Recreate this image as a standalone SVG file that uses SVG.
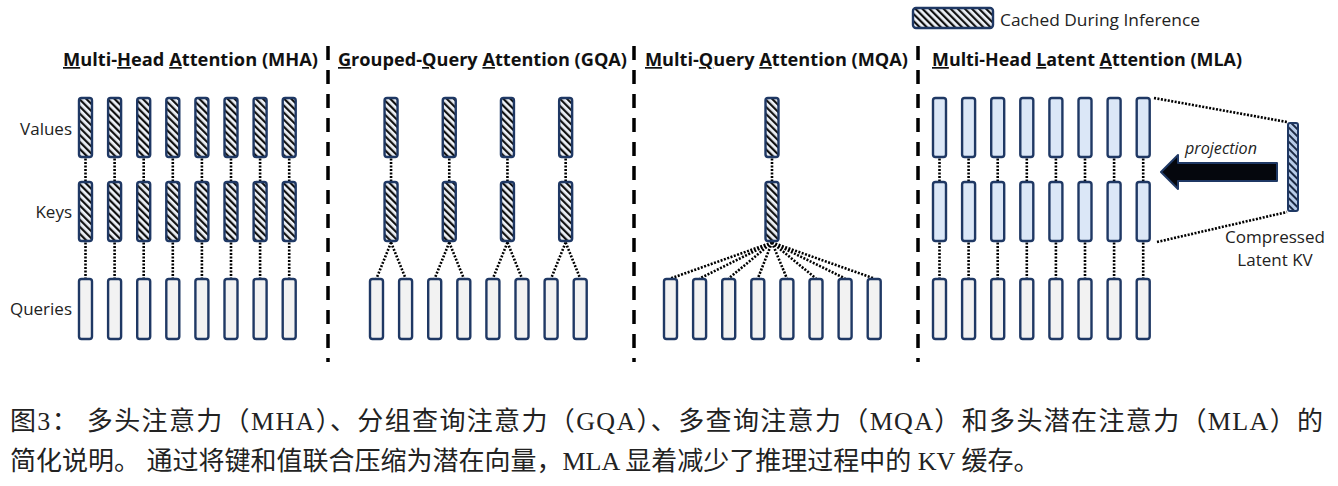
<svg xmlns="http://www.w3.org/2000/svg" width="1338" height="486" viewBox="0 0 1338 486">
<defs>
<pattern id="hatch" patternUnits="userSpaceOnUse" width="5" height="5" patternTransform="rotate(-45)">
<rect width="5" height="5" fill="#eef2f8"/>
<rect x="0" y="0" width="2.2" height="5" fill="#111"/>
</pattern>
<pattern id="hatchBlue" patternUnits="userSpaceOnUse" width="5" height="5" patternTransform="rotate(-45)">
<rect width="5" height="5" fill="#b7cbe8"/>
<rect x="0" y="0" width="2" height="5" fill="#1c2a44"/>
</pattern>
<style>
.h{fill:url(#hatch);stroke:#1f3864;stroke-width:2.4}
.q{fill:#f2f2f2;stroke:#1f3864;stroke-width:2.4}
.b{fill:#dbe7f7;stroke:#1f3864;stroke-width:2.4}
.dot{stroke:#000;stroke-width:2.6;stroke-dasharray:2 1.5;fill:none}
.div{stroke:#000;stroke-width:3.5;stroke-dasharray:14 10;fill:none}
.title{font-family:"Open Sans","Liberation Sans",sans-serif;font-weight:700;font-size:17px;fill:#111}
.u{text-decoration:underline}
.lbl{font-family:"Open Sans","Liberation Sans",sans-serif;font-size:17px;fill:#222}
.cap{font-family:"Liberation Serif","Noto Sans CJK SC",serif;font-size:26px;fill:#222}
</style>
</defs>
<rect width="1338" height="486" fill="#fff"/>

<!-- dividers -->
<g id="dividers">
<line class="div" x1="328" y1="46" x2="328" y2="362"/>
<line class="div" x1="634" y1="46" x2="634" y2="362"/>
<line class="div" x1="918" y1="46" x2="918" y2="362"/>
</g>

<!-- titles -->
<g id="titles">
<text class="title" x="63" y="66" textLength="255" lengthAdjust="spacingAndGlyphs"><tspan class="u">M</tspan>ulti-<tspan class="u">H</tspan>ead <tspan class="u">A</tspan>ttention (MHA)</text>
<text class="title" x="338" y="66" textLength="289" lengthAdjust="spacingAndGlyphs"><tspan class="u">G</tspan>rouped-<tspan class="u">Q</tspan>uery <tspan class="u">A</tspan>ttention (GQA)</text>
<text class="title" x="645" y="66" textLength="263" lengthAdjust="spacingAndGlyphs"><tspan class="u">M</tspan>ulti-<tspan class="u">Q</tspan>uery <tspan class="u">A</tspan>ttention (MQA)</text>
<text class="title" x="932" y="66" textLength="310" lengthAdjust="spacingAndGlyphs"><tspan class="u">M</tspan>ulti-Head <tspan class="u">L</tspan>atent <tspan class="u">A</tspan>ttention (MLA)</text>
</g>

<!-- row labels -->
<g id="row-labels">
<text class="lbl" x="72" y="135" text-anchor="end">Values</text>
<text class="lbl" x="72" y="218" text-anchor="end">Keys</text>
<text class="lbl" x="72" y="315" text-anchor="end">Queries</text>
</g>

<!-- legend -->
<g id="legend">
<rect x="913" y="8" width="80" height="20" rx="3" class="h"/>
<text class="lbl" x="1000" y="26" font-size="16" textLength="200" lengthAdjust="spacingAndGlyphs">Cached During Inference</text>
</g>

<!-- connectors -->
<g id="connectors">
<!-- MHA -->
<path class="dot" d="M85.5 158.5V181.5M114.6 158.5V181.5M143.7 158.5V181.5M172.8 158.5V181.5M201.9 158.5V181.5M231 158.5V181.5M260.1 158.5V181.5M289.2 158.5V181.5"/>
<path class="dot" d="M85.5 242.5V278.5M114.6 242.5V278.5M143.7 242.5V278.5M172.8 242.5V278.5M201.9 242.5V278.5M231 242.5V278.5M260.1 242.5V278.5M289.2 242.5V278.5"/>
<!-- GQA -->
<path class="dot" d="M391.05 158.5V181.5M449.25 158.5V181.5M507.45 158.5V181.5M565.65 158.5V181.5"/>
<path class="dot" d="M391.05 242.5L376.5 278.5M391.05 242.5L405.6 278.5M449.25 242.5L434.7 278.5M449.25 242.5L463.8 278.5M507.45 242.5L492.9 278.5M507.45 242.5L522 278.5M565.65 242.5L551.1 278.5M565.65 242.5L580.2 278.5"/>
<!-- MQA -->
<path class="dot" d="M772 158.5V181.5"/>
<path class="dot" d="M772 242.5L670.5 278.5M772 242.5L699.6 278.5M772 242.5L728.7 278.5M772 242.5L757.8 278.5M772 242.5L786.9 278.5M772 242.5L816 278.5M772 242.5L845.1 278.5M772 242.5L874.2 278.5"/>
<!-- MLA -->
<path class="dot" d="M939.5 158.5V181.5M968.6 158.5V181.5M997.7 158.5V181.5M1026.8 158.5V181.5M1055.9 158.5V181.5M1085 158.5V181.5M1114.1 158.5V181.5M1143.2 158.5V181.5"/>
<path class="dot" d="M939.5 242.5V278.5M968.6 242.5V278.5M997.7 242.5V278.5M1026.8 242.5V278.5M1055.9 242.5V278.5M1085 242.5V278.5M1114.1 242.5V278.5M1143.2 242.5V278.5"/>
<path class="dot" d="M1154 98L1287 122M1157 242L1287 212"/>
</g>

<!-- MHA nodes -->
<g id="mha-v1"><rect class="h" x="79" y="98" width="13" height="59" rx="2.5"/></g>
<g id="mha-v2"><rect class="h" x="108.1" y="98" width="13" height="59" rx="2.5"/></g>
<g id="mha-v3"><rect class="h" x="137.2" y="98" width="13" height="59" rx="2.5"/></g>
<g id="mha-v4"><rect class="h" x="166.3" y="98" width="13" height="59" rx="2.5"/></g>
<g id="mha-v5"><rect class="h" x="195.4" y="98" width="13" height="59" rx="2.5"/></g>
<g id="mha-v6"><rect class="h" x="224.5" y="98" width="13" height="59" rx="2.5"/></g>
<g id="mha-v7"><rect class="h" x="253.6" y="98" width="13" height="59" rx="2.5"/></g>
<g id="mha-v8"><rect class="h" x="282.7" y="98" width="13" height="59" rx="2.5"/></g>
<g id="mha-k1"><rect class="h" x="79" y="182" width="13" height="59" rx="2.5"/></g>
<g id="mha-k2"><rect class="h" x="108.1" y="182" width="13" height="59" rx="2.5"/></g>
<g id="mha-k3"><rect class="h" x="137.2" y="182" width="13" height="59" rx="2.5"/></g>
<g id="mha-k4"><rect class="h" x="166.3" y="182" width="13" height="59" rx="2.5"/></g>
<g id="mha-k5"><rect class="h" x="195.4" y="182" width="13" height="59" rx="2.5"/></g>
<g id="mha-k6"><rect class="h" x="224.5" y="182" width="13" height="59" rx="2.5"/></g>
<g id="mha-k7"><rect class="h" x="253.6" y="182" width="13" height="59" rx="2.5"/></g>
<g id="mha-k8"><rect class="h" x="282.7" y="182" width="13" height="59" rx="2.5"/></g>
<g id="mha-q1"><rect class="q" x="79" y="279" width="13" height="60" rx="2.5"/></g>
<g id="mha-q2"><rect class="q" x="108.1" y="279" width="13" height="60" rx="2.5"/></g>
<g id="mha-q3"><rect class="q" x="137.2" y="279" width="13" height="60" rx="2.5"/></g>
<g id="mha-q4"><rect class="q" x="166.3" y="279" width="13" height="60" rx="2.5"/></g>
<g id="mha-q5"><rect class="q" x="195.4" y="279" width="13" height="60" rx="2.5"/></g>
<g id="mha-q6"><rect class="q" x="224.5" y="279" width="13" height="60" rx="2.5"/></g>
<g id="mha-q7"><rect class="q" x="253.6" y="279" width="13" height="60" rx="2.5"/></g>
<g id="mha-q8"><rect class="q" x="282.7" y="279" width="13" height="60" rx="2.5"/></g>

<!-- GQA nodes -->
<g id="gqa-v1"><rect class="h" x="384.55" y="98" width="13" height="59" rx="2.5"/></g>
<g id="gqa-v2"><rect class="h" x="442.75" y="98" width="13" height="59" rx="2.5"/></g>
<g id="gqa-v3"><rect class="h" x="500.95" y="98" width="13" height="59" rx="2.5"/></g>
<g id="gqa-v4"><rect class="h" x="559.15" y="98" width="13" height="59" rx="2.5"/></g>
<g id="gqa-k1"><rect class="h" x="384.55" y="182" width="13" height="59" rx="2.5"/></g>
<g id="gqa-k2"><rect class="h" x="442.75" y="182" width="13" height="59" rx="2.5"/></g>
<g id="gqa-k3"><rect class="h" x="500.95" y="182" width="13" height="59" rx="2.5"/></g>
<g id="gqa-k4"><rect class="h" x="559.15" y="182" width="13" height="59" rx="2.5"/></g>
<g id="gqa-q1"><rect class="q" x="370" y="279" width="13" height="60" rx="2.5"/></g>
<g id="gqa-q2"><rect class="q" x="399.1" y="279" width="13" height="60" rx="2.5"/></g>
<g id="gqa-q3"><rect class="q" x="428.2" y="279" width="13" height="60" rx="2.5"/></g>
<g id="gqa-q4"><rect class="q" x="457.3" y="279" width="13" height="60" rx="2.5"/></g>
<g id="gqa-q5"><rect class="q" x="486.4" y="279" width="13" height="60" rx="2.5"/></g>
<g id="gqa-q6"><rect class="q" x="515.5" y="279" width="13" height="60" rx="2.5"/></g>
<g id="gqa-q7"><rect class="q" x="544.6" y="279" width="13" height="60" rx="2.5"/></g>
<g id="gqa-q8"><rect class="q" x="573.7" y="279" width="13" height="60" rx="2.5"/></g>

<!-- MQA nodes -->
<g id="mqa-v"><rect class="h" x="765.5" y="98" width="13" height="59" rx="2.5"/></g>
<g id="mqa-k"><rect class="h" x="765.5" y="182" width="13" height="59" rx="2.5"/></g>
<g id="mqa-q1"><rect class="q" x="664" y="279" width="13" height="60" rx="2.5"/></g>
<g id="mqa-q2"><rect class="q" x="693.1" y="279" width="13" height="60" rx="2.5"/></g>
<g id="mqa-q3"><rect class="q" x="722.2" y="279" width="13" height="60" rx="2.5"/></g>
<g id="mqa-q4"><rect class="q" x="751.3" y="279" width="13" height="60" rx="2.5"/></g>
<g id="mqa-q5"><rect class="q" x="780.4" y="279" width="13" height="60" rx="2.5"/></g>
<g id="mqa-q6"><rect class="q" x="809.5" y="279" width="13" height="60" rx="2.5"/></g>
<g id="mqa-q7"><rect class="q" x="838.6" y="279" width="13" height="60" rx="2.5"/></g>
<g id="mqa-q8"><rect class="q" x="867.7" y="279" width="13" height="60" rx="2.5"/></g>

<!-- MLA nodes -->
<g id="mla-v1"><rect class="b" x="933" y="98" width="13" height="59" rx="2.5"/></g>
<g id="mla-v2"><rect class="b" x="962.1" y="98" width="13" height="59" rx="2.5"/></g>
<g id="mla-v3"><rect class="b" x="991.2" y="98" width="13" height="59" rx="2.5"/></g>
<g id="mla-v4"><rect class="b" x="1020.3" y="98" width="13" height="59" rx="2.5"/></g>
<g id="mla-v5"><rect class="b" x="1049.4" y="98" width="13" height="59" rx="2.5"/></g>
<g id="mla-v6"><rect class="b" x="1078.5" y="98" width="13" height="59" rx="2.5"/></g>
<g id="mla-v7"><rect class="b" x="1107.6" y="98" width="13" height="59" rx="2.5"/></g>
<g id="mla-v8"><rect class="b" x="1136.7" y="98" width="13" height="59" rx="2.5"/></g>
<g id="mla-k1"><rect class="b" x="933" y="182" width="13" height="59" rx="2.5"/></g>
<g id="mla-k2"><rect class="b" x="962.1" y="182" width="13" height="59" rx="2.5"/></g>
<g id="mla-k3"><rect class="b" x="991.2" y="182" width="13" height="59" rx="2.5"/></g>
<g id="mla-k4"><rect class="b" x="1020.3" y="182" width="13" height="59" rx="2.5"/></g>
<g id="mla-k5"><rect class="b" x="1049.4" y="182" width="13" height="59" rx="2.5"/></g>
<g id="mla-k6"><rect class="b" x="1078.5" y="182" width="13" height="59" rx="2.5"/></g>
<g id="mla-k7"><rect class="b" x="1107.6" y="182" width="13" height="59" rx="2.5"/></g>
<g id="mla-k8"><rect class="b" x="1136.7" y="182" width="13" height="59" rx="2.5"/></g>
<g id="mla-q1"><rect class="q" x="933" y="279" width="13" height="60" rx="2.5"/></g>
<g id="mla-q2"><rect class="q" x="962.1" y="279" width="13" height="60" rx="2.5"/></g>
<g id="mla-q3"><rect class="q" x="991.2" y="279" width="13" height="60" rx="2.5"/></g>
<g id="mla-q4"><rect class="q" x="1020.3" y="279" width="13" height="60" rx="2.5"/></g>
<g id="mla-q5"><rect class="q" x="1049.4" y="279" width="13" height="60" rx="2.5"/></g>
<g id="mla-q6"><rect class="q" x="1078.5" y="279" width="13" height="60" rx="2.5"/></g>
<g id="mla-q7"><rect class="q" x="1107.6" y="279" width="13" height="60" rx="2.5"/></g>
<g id="mla-q8"><rect class="q" x="1136.7" y="279" width="13" height="60" rx="2.5"/></g>

<!-- compressed latent KV -->
<g id="latent-kv">
<rect x="1288" y="123" width="10" height="88" rx="2" fill="url(#hatchBlue)" stroke="#1f3864" stroke-width="2"/>
<text class="lbl" x="1275" y="243" text-anchor="middle" textLength="100" lengthAdjust="spacingAndGlyphs">Compressed</text>
<text class="lbl" x="1275" y="266" text-anchor="middle">Latent KV</text>
</g>

<!-- projection arrow -->
<g id="projection">
<polygon points="1161,172 1178,155 1178,163 1277,163 1277,181 1178,181 1178,189" fill="#05070d" stroke="#1f3864" stroke-width="2" stroke-linejoin="round"/>
<text class="lbl" x="1221" y="154" text-anchor="middle" font-style="italic" font-size="15" textLength="72" lengthAdjust="spacingAndGlyphs">projection</text>
</g>

<!-- caption -->
<g id="caption">
<text class="cap" x="10" y="430" textLength="1313" lengthAdjust="spacing">图3： 多头注意力（MHA）、分组查询注意力（GQA）、多查询注意力（MQA）和多头潜在注意力（MLA）的</text>
<text class="cap" x="10" y="470">简化说明。 通过将键和值联合压缩为潜在向量，MLA 显着减少了推理过程中的 KV 缓存。</text>
</g>
</svg>
